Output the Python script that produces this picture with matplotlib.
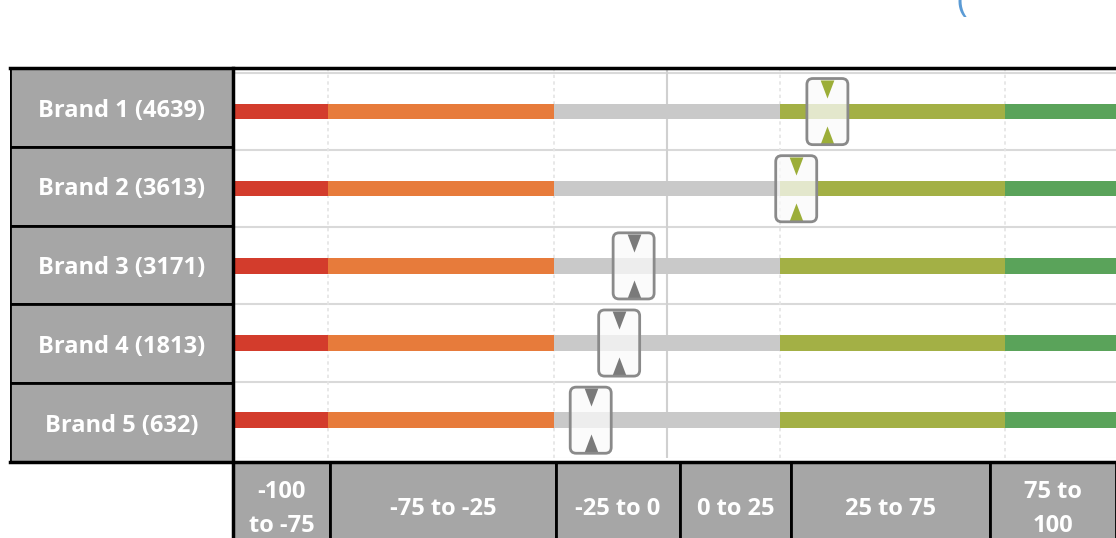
import numpy as np
import matplotlib.pyplot as plt
from matplotlib.patches import Rectangle, FancyBboxPatch

plt.rcParams['font.family'] = 'Open Sans'

# Rows and their scores
brands = ['Brand 1 (4639)', 'Brand 2 (3613)', 'Brand 3 (3171)', 'Brand 4 (1813)', 'Brand 5 (632)']
scores = [35.6, 28.7, -7.3, -10.5, -16.8]

# Score bands along the scale
band_edges = [-100, -75, -25, 0, 25, 75, 100]
band_colors = ['#d33c2c', '#e77b3b', '#c9c9c9', '#c9c9c9', '#a3b045', '#5aa35a']
pointer_colors = ['#d33c2c', '#e77b3b', '#7a7a7a', '#7a7a7a', '#9cae38', '#5aa35a']

# Header cells below the scale
header_labels = ['-100\nto -75', '-75 to -25', '-25 to 0', '0 to 25', '25 to 75', '75 to\n100']
header_edges = [-96, -74.5, -24.5, 3, 27.5, 71.5, 99.5]

W, H = 1116, 538
fig = plt.figure(figsize=(W / 100, H / 100), dpi=100)

def px_axes(x0, y0, x1, y1):
    return fig.add_axes([x0 / W, 1 - y1 / H, (x1 - x0) / W, (y1 - y0) / H])

xlim = (-96, 99.5)
ax = px_axes(233, 68, 1116, 458)
ax.set_xlim(*xlim)
ax.set_ylim(4.49, -0.565)
ax.set_xticks([])
ax.set_yticks([])
for s in ax.spines.values():
    s.set_visible(False)

# grid
for y in np.arange(-0.5, 5, 1):
    ax.axhline(y, color='#d9d9d9', lw=1.5, zorder=1)
for x in band_edges[1:-1]:
    if x == 0:
        ax.axvline(x, color='#d0d0d0', lw=1.5, zorder=1)
    else:
        ax.axvline(x, color='#e4e4e4', lw=1.2, ls=(0, (2, 2)), zorder=1)

# colour bands per row
ypos = np.arange(len(brands))
bar_h = 0.2
for i in range(len(band_colors)):
    ax.barh(ypos, band_edges[i + 1] - band_edges[i], left=band_edges[i],
            height=bar_h, color=band_colors[i], zorder=2)

# score pointers
xscale = (xlim[1] - xlim[0]) / 883      # data units per pixel (x)
yscale = 1 / 77.0                       # data units per pixel (y)
box_w, box_h = 41 * xscale, 66 * yscale
tri_down = [(-0.38, 0.5), (0.38, 0.5), (0, -0.5)]
tri_up = [(-0.38, -0.5), (0.38, -0.5), (0, 0.5)]
for y, s in zip(ypos, scores):
    band = np.digitize(s, band_edges) - 1
    c = pointer_colors[band]
    style = 'round,pad=0,rounding_size=%f' % (6 * xscale)
    ax.add_patch(FancyBboxPatch((s - box_w / 2, y - box_h / 2), box_w, box_h,
                                boxstyle=style, mutation_aspect=yscale / xscale,
                                facecolor='#fafafa', alpha=0.75, edgecolor='none', zorder=3))
    ax.add_patch(FancyBboxPatch((s - box_w / 2, y - box_h / 2), box_w, box_h,
                                boxstyle=style, mutation_aspect=yscale / xscale,
                                facecolor='none', edgecolor='#8a8a8a', lw=2, zorder=5))
    ax.plot(s, y - 23 * yscale, marker=tri_down, ms=13, color=c, mec='none', zorder=4)
    ax.plot(s, y + 23 * yscale, marker=tri_up, ms=13, color=c, mec='none', zorder=4)

# brand label panel
lab = px_axes(10, 68, 233, 462)
lab.set_xlim(0, 1)
lab.set_ylim(len(brands), 0)
lab.axis('off')
for i, name in enumerate(brands):
    lab.add_patch(Rectangle((0, i), 1, 1, facecolor='#a6a6a6', edgecolor='black', lw=2))
    lab.text(0.5, i + 0.54, name, color='white', fontsize=17, fontweight='bold',
             ha='center', va='center')

# header row
hdr = px_axes(233, 462, 1116, 545)
hdr.set_xlim(*xlim)
hdr.set_ylim(1, 0)
hdr.axis('off')
for i, t in enumerate(header_labels):
    x0, x1 = header_edges[i], header_edges[i + 1]
    hdr.add_patch(Rectangle((x0, 0), x1 - x0, 1, facecolor='#a6a6a6', edgecolor='black', lw=2,
                            clip_on=False))
    hdr.text((x0 + x1) / 2, 0.57, t, color='white', fontsize=17, fontweight='bold',
             ha='center', va='center', linespacing=1.55)

# outer rules
fig.add_artist(plt.Line2D([10 / W, 1], [1 - 68 / H] * 2, color='black', lw=2.5))
fig.add_artist(plt.Line2D([10 / W, 1], [1 - 462 / H] * 2, color='black', lw=2.5))
fig.add_artist(plt.Line2D([233 / W] * 2, [0, 1 - 68 / H], color='black', lw=2.5))

# title fragment at the top edge
fig.text(962 / W, 1 - 2 / H, '(', color='#5b9bd5', fontsize=26, ha='center', va='center')

fig.savefig('out.png', dpi=100)
